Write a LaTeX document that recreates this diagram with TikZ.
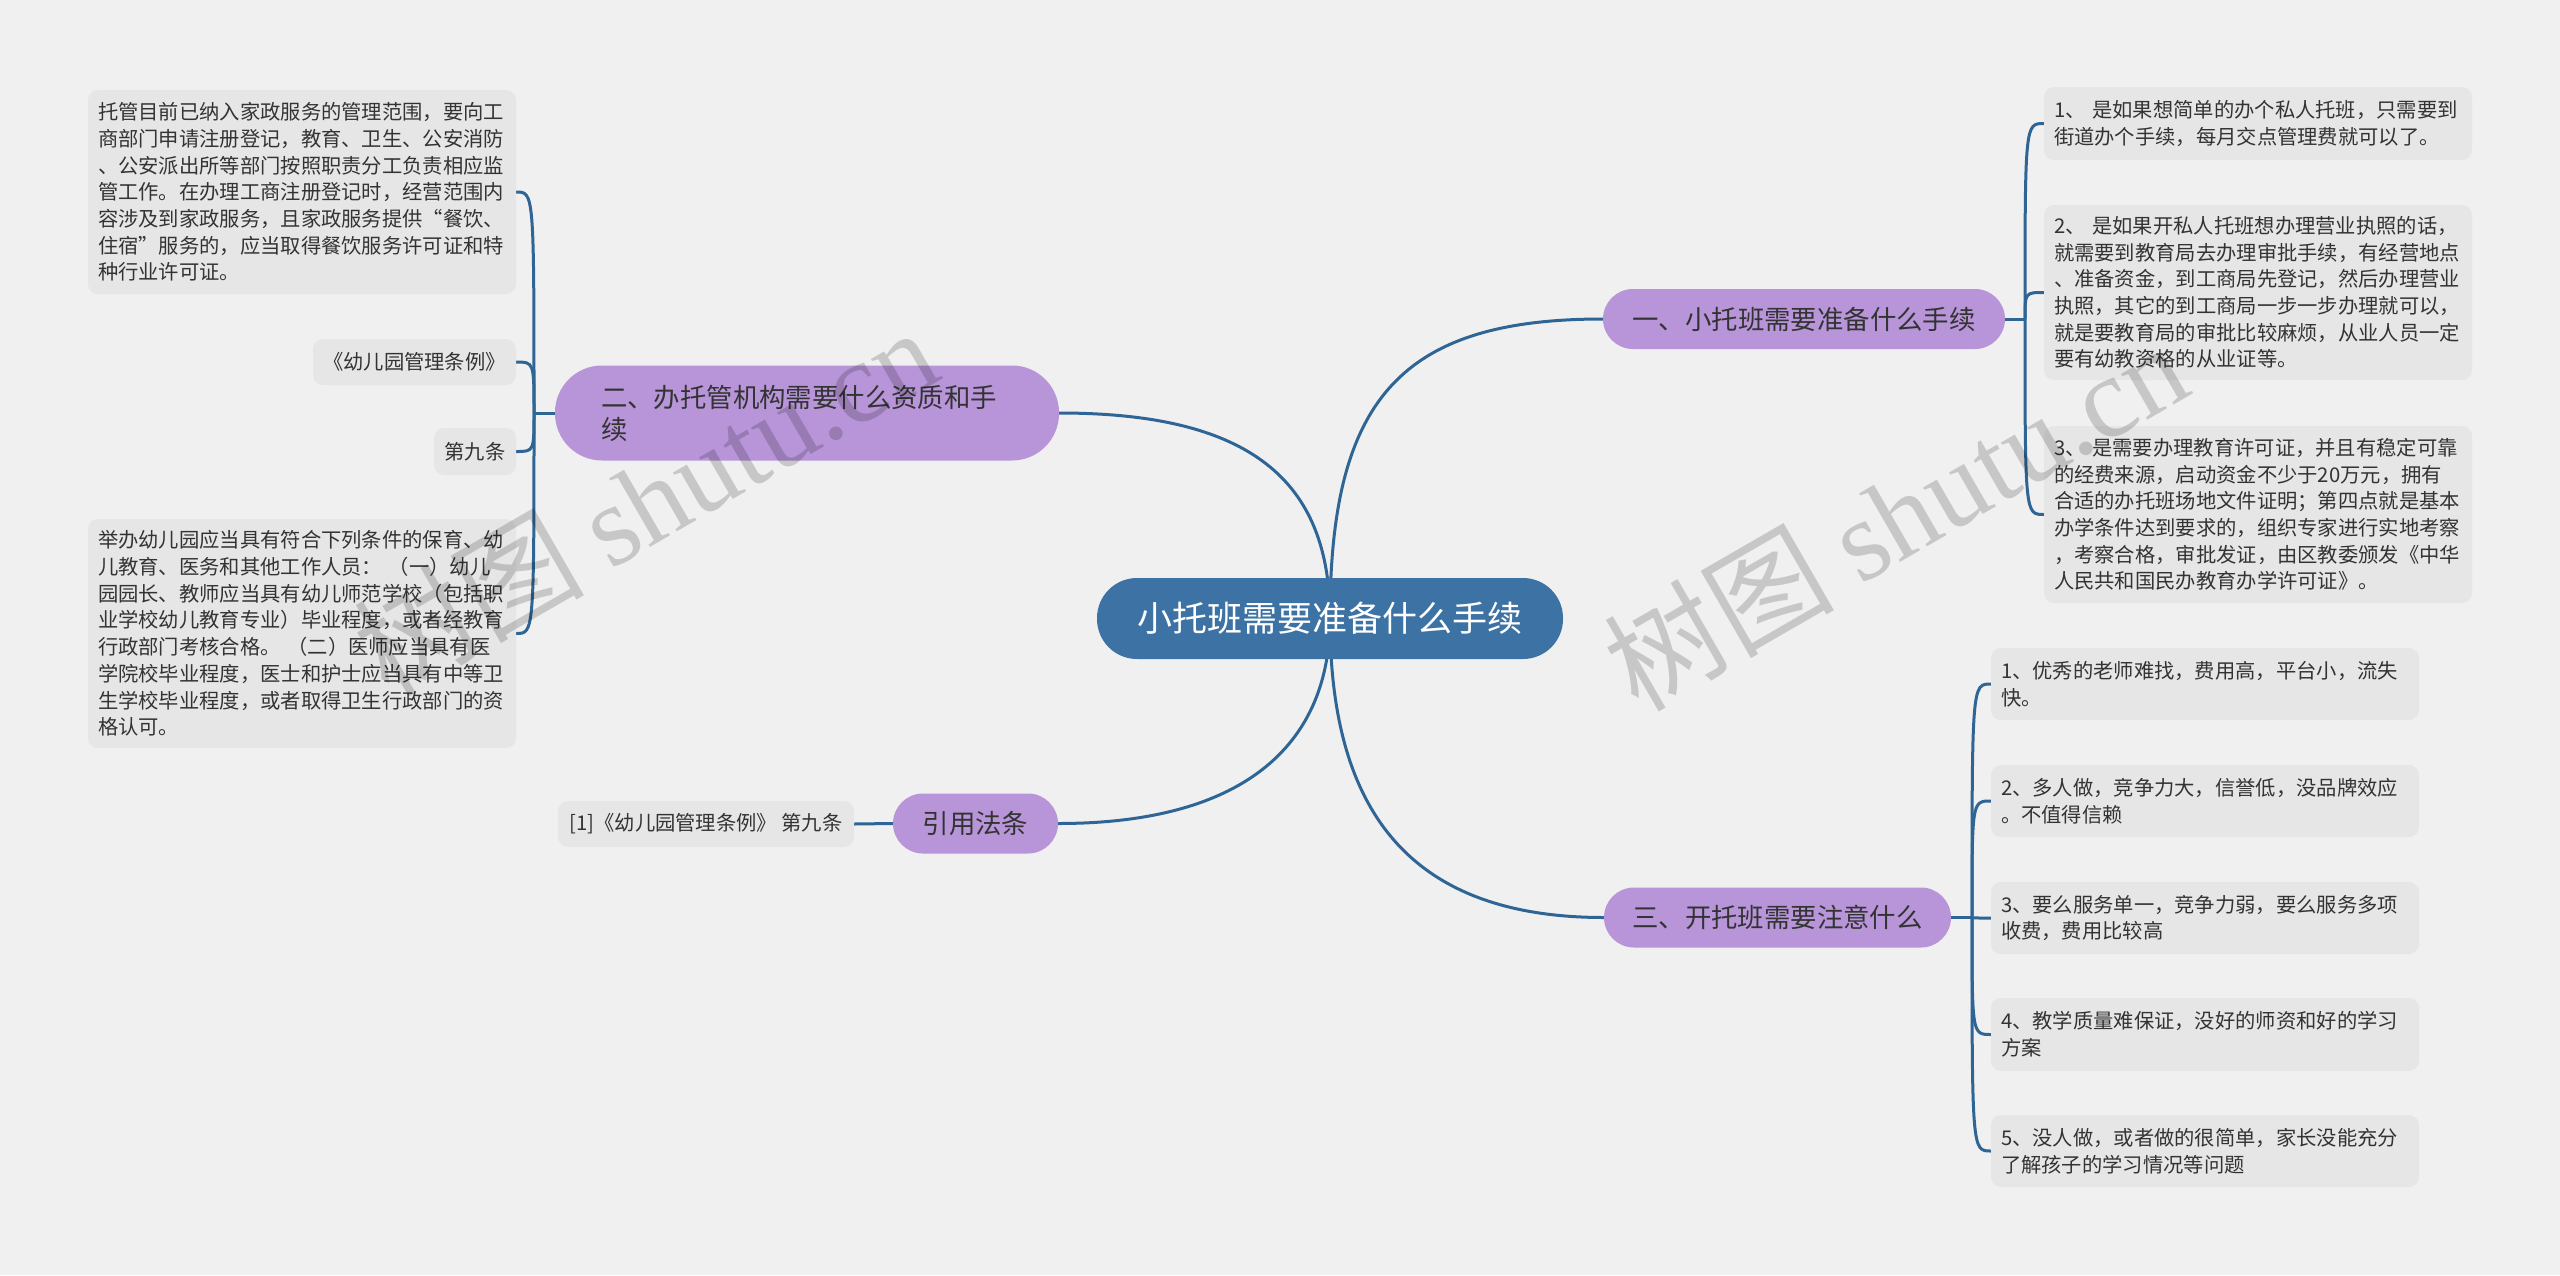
\documentclass[tikz,border=0pt]{standalone}
\usepackage{fontspec}
\setmainfont{Noto Sans CJK SC}
\newfontfamily\wmlatin{Liberation Serif}
\usetikzlibrary{backgrounds}
\definecolor{bgc}{HTML}{F0F0F0}
\definecolor{leafc}{HTML}{E6E6E6}
\definecolor{pillc}{HTML}{B795D8}
\definecolor{rootc}{HTML}{3D72A4}
\definecolor{linec}{HTML}{2F6595}
\definecolor{txt}{HTML}{333333}
\begin{document}
\begin{tikzpicture}[x=1pt,y=-1pt,
  leaf/.style={fill=leafc, rounded corners=10pt, text=txt, font=\fontsize{20.3}{26.7}\selectfont, inner xsep=10pt, inner ysep=0pt},
  leafbox/.style={leaf, text width=408pt, align=left, minimum width=428pt},
  pill/.style={fill=pillc, text=txt, font=\fontsize{26.4}{32}\selectfont, rounded corners=30pt, minimum height=60pt, inner ysep=0pt, inner xsep=0pt},
  rootnode/.style={fill=rootc, text=white, font=\fontsize{35}{40}\selectfont, rounded corners=40pt, minimum height=81pt, minimum width=466pt, inner sep=0pt},
  conn/.style={draw=linec, line width=3pt},
  wm/.style={rotate=30, text=black, text opacity=0.17, font=\fontsize{115}{115}\selectfont, inner sep=0pt}
]
\useasboundingbox (0,0) rectangle (2560,1275);

% root and main branches
\node[rootnode] (root) at (1330,618.5) {小托班需要准备什么手续};
\node[pill, minimum width=402pt] (b1) at (1804,319) {一、小托班需要准备什么手续};
\node[pill, minimum width=504pt, minimum height=95pt, rounded corners=47pt, text width=412pt, align=left, inner xsep=46pt] (b2) at (807,413) {二、办托管机构需要什么资质和手\\续};
\node[pill, minimum width=347pt] (b3) at (1777.5,917.5) {三、开托班需要注意什么};
\node[pill, minimum width=165pt] (b4) at (975.5,823.5) {引用法条};

% left leaves
\node[leafbox, minimum height=204pt] (la) at (302,192) {托管目前已纳入家政服务的管理范围，要向工\\商部门申请注册登记，教育、卫生、公安消防\\、公安派出所等部门按照职责分工负责相应监\\管工作。在办理工商注册登记时，经营范围内\\容涉及到家政服务，且家政服务提供“餐饮、\\住宿”服务的，应当取得餐饮服务许可证和特\\种行业许可证。};
\node[leaf, minimum width=203pt, minimum height=46pt] (lb) at (414.5,362) {《幼儿园管理条例》};
\node[leaf, minimum width=82pt, minimum height=47pt, inner xsep=0pt] (lc) at (475,451.5) {第九条};
\node[leafbox, minimum height=229pt] (ld) at (302,633.5) {举办幼儿园应当具有符合下列条件的保育、幼\\儿教育、医务和其他工作人员： （一）幼儿\\园园长、教师应当具有幼儿师范学校（包括职\\业学校幼儿教育专业）毕业程度，或者经教育\\行政部门考核合格。 （二）医师应当具有医\\学院校毕业程度，医士和护士应当具有中等卫\\生学校毕业程度，或者取得卫生行政部门的资\\格认可。};
\node[leaf, minimum width=296pt, minimum height=46pt, inner xsep=0pt] (le) at (706,824) {[1]《幼儿园管理条例》 第九条};

% right leaves of branch 1
\node[leafbox, minimum height=73pt] (ra) at (2258,123.5) {1、 是如果想简单的办个私人托班，只需要到\\街道办个手续，每月交点管理费就可以了。};
\node[leafbox, minimum height=175pt] (rb) at (2258,292.5) {2、 是如果开私人托班想办理营业执照的话，\\就需要到教育局去办理审批手续，有经营地点\\、准备资金，到工商局先登记，然后办理营业\\执照，其它的到工商局一步一步办理就可以，\\就是要教育局的审批比较麻烦，从业人员一定\\要有幼教资格的从业证等。};
\node[leafbox, minimum height=177pt] (rc) at (2258,514.5) {3、 是需要办理教育许可证，并且有稳定可靠\\的经费来源，启动资金不少于20万元，拥有\\合适的办托班场地文件证明；第四点就是基本\\办学条件达到要求的，组织专家进行实地考察\\，考察合格，审批发证，由区教委颁发《中华\\人民共和国民办教育办学许可证》。};

% right leaves of branch 3
\node[leafbox, minimum height=72pt] (s1) at (2205,684) {1、优秀的老师难找，费用高，平台小，流失\\快。};
\node[leafbox, minimum height=72pt] (s2) at (2205,801) {2、多人做，竞争力大，信誉低，没品牌效应\\。不值得信赖};
\node[leafbox, minimum height=72pt] (s3) at (2205,918) {3、要么服务单一，竞争力弱，要么服务多项\\收费，费用比较高};
\node[leafbox, minimum height=73pt] (s4) at (2205,1034.5) {4、教学质量难保证，没好的师资和好的学习\\方案};
\node[leafbox, minimum height=72pt] (s5) at (2205,1151) {5、没人做，或者做的很简单，家长没能充分\\了解孩子的学习情况等问题};

\coordinate (j1) at (2025,319);
\coordinate (j2) at (534,413);
\coordinate (j3) at (1972,917.5);

\begin{scope}[on background layer]
  \fill[bgc] (0,0) rectangle (2560,1275);
  \draw[conn] (root.center) .. controls (1330,400) and (1400,319) .. (b1.west);
  \draw[conn] (root.center) .. controls (1330,480) and (1250,413) .. (b2.east);
  \draw[conn] (root.center) .. controls (1330,800) and (1400,917.5) .. (b3.west);
  \draw[conn] (root.center) .. controls (1330,740) and (1250,823.5) .. (b4.east);
  \draw[conn] (b1.east) -- (j1);
  \foreach \n in {ra,rb,rc} \draw[conn] (j1) .. controls (j1 |- \n.west) .. (\n.west);
  \draw[conn] (b2.west) -- (j2);
  \foreach \n in {la,lb,lc,ld} \draw[conn] (j2) .. controls (j2 |- \n.east) .. (\n.east);
  \draw[conn] (b3.east) -- (j3);
  \foreach \n in {s1,s2,s3,s4,s5} \draw[conn] (j3) .. controls (j3 |- \n.west) .. (\n.west);
  \draw[conn] (b4.west) -- (le.east);
\end{scope}

% watermarks
\node[wm] (wm1) at (645,500) {树图 {\wmlatin shutu.cn}};
\node[wm] (wm2) at (1895,515) {树图 {\wmlatin shutu.cn}};
\end{tikzpicture}
\end{document}
